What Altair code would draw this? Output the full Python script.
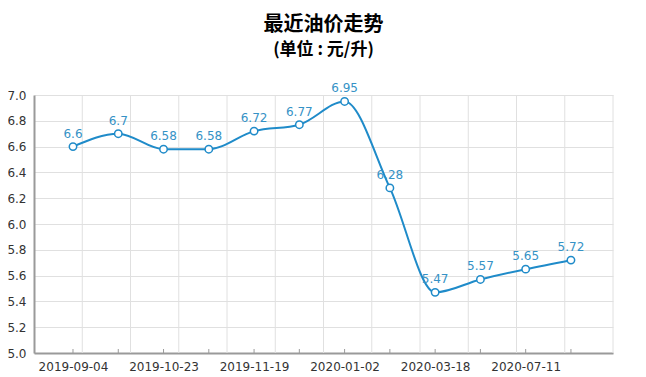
import json
import altair as alt
import pandas as pd

dates = ["2019-09-04", "2019-09-19", "2019-10-23", "2019-11-05", "2019-11-19", "2019-12-03",
         "2020-01-02", "2020-01-17", "2020-03-18", "2020-06-28", "2020-07-11", "2020-07-24"]
prices = [6.6, 6.7, 6.58, 6.58, 6.72, 6.77, 6.95, 6.28, 5.47, 5.57, 5.65, 5.72]
price_labels = ["6.6", "6.7", "6.58", "6.58", "6.72", "6.77", "6.95", "6.28", "5.47", "5.57", "5.65", "5.72"]
y_ticks = [5.0, 5.2, 5.4, 5.6, 5.8, 6.0, 6.2, 6.4, 6.6, 6.8, 7.0]

df = pd.DataFrame({"idx": list(range(len(dates))), "date": dates,
                   "price": prices, "label": price_labels})
grid_df = pd.DataFrame({"col": list(range(1, 13))})

W, H = 579, 258
LINE = "#1f8bc9"
LABEL = "#3592c6"

label_expr = f"datum.value % 2 == 0 ? {json.dumps(dates)}[datum.value] : ''"

xscale = alt.Scale(domain=[-0.8615, 11.929], nice=False, zero=False)
yscale = alt.Scale(domain=[5.0, 7.0], nice=False, zero=False)

x_enc = alt.X("idx:Q", scale=xscale,
              axis=alt.Axis(values=list(range(len(dates))), labelExpr=label_expr,
                            grid=False, ticks=False, title=None,
                            domainColor="#9a9a9a", domainWidth=2,
                            labelFont="DejaVu Sans", labelFontSize=12, labelColor="#333333",
                            labelPadding=8, labelFlush=False))
y_enc = alt.Y("price:Q", scale=yscale,
              axis=alt.Axis(values=y_ticks, format=".1f", grid=True,
                            gridColor="#e0e0e0",
                            ticks=False, title=None, domainColor="#9a9a9a", domainWidth=2,
                            labelFont="DejaVu Sans", labelFontSize=12, labelColor="#333333",
                            labelPadding=8))

vgrid = alt.Chart(grid_df).mark_rule(color="#e0e0e0", strokeWidth=1).encode(
    x=alt.X("col:Q", scale=alt.Scale(domain=[0, 12], nice=False, zero=False), axis=None)
)

base = alt.Chart(df)
line = base.mark_line(color=LINE, strokeWidth=2, interpolate="monotone").encode(x=x_enc, y=y_enc)
ticks = base.mark_rule(color="#9a9a9a", strokeWidth=1).encode(
    x=x_enc, y=alt.value(H), y2=alt.value(H - 4))
points = base.mark_point(shape="circle", filled=True, fill="white", stroke=LINE,
                         strokeWidth=1.5, size=55, opacity=1).encode(x=x_enc, y=y_enc)
labels = base.mark_text(color=LABEL, font="DejaVu Sans", fontSize=12, baseline="bottom",
                        dy=-6).encode(x=x_enc, y=y_enc, text="label:N")

main = alt.layer(line, ticks, points, labels)

chart = alt.layer(vgrid, main).resolve_scale(x="independent").properties(
    width=W, height=H,
    autosize=alt.AutoSizeParams(type="none"),
    padding={"left": 26, "top": 87, "right": 25, "bottom": 22},
    title=alt.TitleParams(text="最近油价走势", subtitle="(单位 : 元/升)",
                          font="Noto Sans CJK SC", fontSize=20, fontWeight="bold", color="#000000",
                          subtitleFont="Noto Sans CJK SC", subtitleFontSize=17,
                          subtitleFontWeight="bold", subtitleColor="#000000",
                          subtitlePadding=7, anchor="middle", offset=24),
).configure_view(stroke=None).configure_axis(labelOverlap=False, labelBound=False)

chart.save("out.html", embed_options={"renderer": "svg", "actions": False})
